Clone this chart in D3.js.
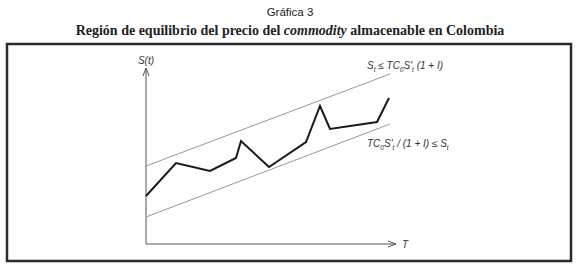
<!DOCTYPE html>
<html>
<head>
<meta charset="utf-8">
<script src="https://cdn.jsdelivr.net/npm/d3@7"></script>
<style>
  body { margin: 0; background: #fff; }
  svg { display: block; }
</style>
</head>
<body>
<div id="chart"></div>
<script>
// Price path S(t) (arbitrary units)
const timeValues = [0, 30, 64, 90, 95, 123, 160, 174, 184, 231, 243];
const priceValues = [48, 81, 73, 86, 103, 77, 102, 138, 115, 122, 146];
// Band limits: start and end of each line
const bandTime = [0, 244];
const upperBand = [78, 170];
const lowerBand = [27, 120];

const titleTop = 'Gráfica 3';
const axisLabelY = 'S(t)';
const axisLabelX = 'T';

const width = 580, height = 272;
const svg = d3.select('#chart').append('svg')
  .attr('width', width)
  .attr('height', height);

// titles
svg.append('text')
  .attr('x', 290).attr('y', 16)
  .attr('text-anchor', 'middle')
  .style('font-family', 'Liberation Sans, Arial, sans-serif')
  .style('font-size', '11.5px')
  .attr('fill', '#222')
  .text(titleTop);

const t2 = svg.append('text')
  .attr('x', 290).attr('y', 35)
  .attr('text-anchor', 'middle')
  .style('font-family', 'Liberation Serif, Times New Roman, serif')
  .style('font-size', '14px')
  .style('font-weight', 'bold')
  .attr('fill', '#222');
t2.append('tspan').text('Región de equilibrio del precio del ');
t2.append('tspan').style('font-style', 'italic').text('commodity');
t2.append('tspan').text(' almacenable en Colombia');

// frame
svg.append('rect')
  .attr('x', 7).attr('y', 44)
  .attr('width', 564).attr('height', 217)
  .attr('fill', 'none')
  .attr('stroke', '#2a2a2a')
  .attr('stroke-width', 2.5);

const x = d3.scaleLinear().domain([0, 250]).range([146, 396]);
const y = d3.scaleLinear().domain([0, 176]).range([244, 68]);

// axes with open arrowheads
const axisColor = '#555';
svg.append('line')
  .attr('x1', x(0)).attr('y1', y(0))
  .attr('x2', x(0)).attr('y2', y(176))
  .attr('stroke', axisColor).attr('stroke-width', 1);
svg.append('polyline')
  .attr('points', `${x(0) - 3},${y(176) + 8} ${x(0)},${y(176)} ${x(0) + 3},${y(176) + 8}`)
  .attr('fill', 'none').attr('stroke', axisColor).attr('stroke-width', 1);

svg.append('line')
  .attr('x1', x(0)).attr('y1', y(0))
  .attr('x2', x(250)).attr('y2', y(0))
  .attr('stroke', axisColor).attr('stroke-width', 1);
svg.append('polyline')
  .attr('points', `${x(250) - 8},${y(0) - 3} ${x(250)},${y(0)} ${x(250) - 8},${y(0) + 3}`)
  .attr('fill', 'none').attr('stroke', axisColor).attr('stroke-width', 1);

const labelFont = 'Liberation Sans, Arial, sans-serif';
svg.append('text')
  .attr('x', x(0)).attr('y', y(176) - 4)
  .attr('text-anchor', 'middle')
  .style('font-family', labelFont).style('font-size', '10px')
  .style('font-style', 'italic').attr('fill', '#333')
  .text(axisLabelY);

svg.append('text')
  .attr('x', x(250) + 6).attr('y', y(0) + 4)
  .style('font-family', labelFont).style('font-size', '10px')
  .style('font-style', 'italic').attr('fill', '#333')
  .text(axisLabelX);

// band lines
const band = (vals) => bandTime.map((t, i) => [t, vals[i]]);
const line = d3.line().x(d => x(d[0])).y(d => y(d[1]));
[upperBand, lowerBand].forEach(b => {
  svg.append('path')
    .attr('d', line(band(b)))
    .attr('fill', 'none')
    .attr('stroke', '#999')
    .attr('stroke-width', 1);
});

// price path
svg.append('path')
  .attr('d', line(timeValues.map((t, i) => [t, priceValues[i]])))
  .attr('fill', 'none')
  .attr('stroke', '#1a1a1a')
  .attr('stroke-width', 2)
  .attr('stroke-linejoin', 'miter');

// band labels with subscripts
function formula(xp, yp, parts) {
  const t = svg.append('text')
    .attr('x', xp).attr('y', yp)
    .style('font-family', labelFont).style('font-size', '10px')
    .style('font-style', 'italic').attr('fill', '#333');
  let lowered = false;
  parts.forEach(p => {
    if (p.sub) {
      t.append('tspan').attr('dy', lowered ? 0 : 3)
        .style('font-size', '6.5px').text(p.sub);
      lowered = true;
    } else {
      t.append('tspan').attr('dy', lowered ? -3 : 0).text(p.t);
      lowered = false;
    }
  });
}
formula(367, 69, [{t: 'S'}, {sub: 't'}, {t: ' ≤ TC'}, {sub: '0'}, {t: 'S\''}, {sub: 't'}, {t: ' (1 + I)'}]);
formula(367, 147, [{t: 'TC'}, {sub: '0'}, {t: 'S\''}, {sub: 't'}, {t: ' / (1 + I) ≤ S'}, {sub: 't'}]);
</script>
</body>
</html>
